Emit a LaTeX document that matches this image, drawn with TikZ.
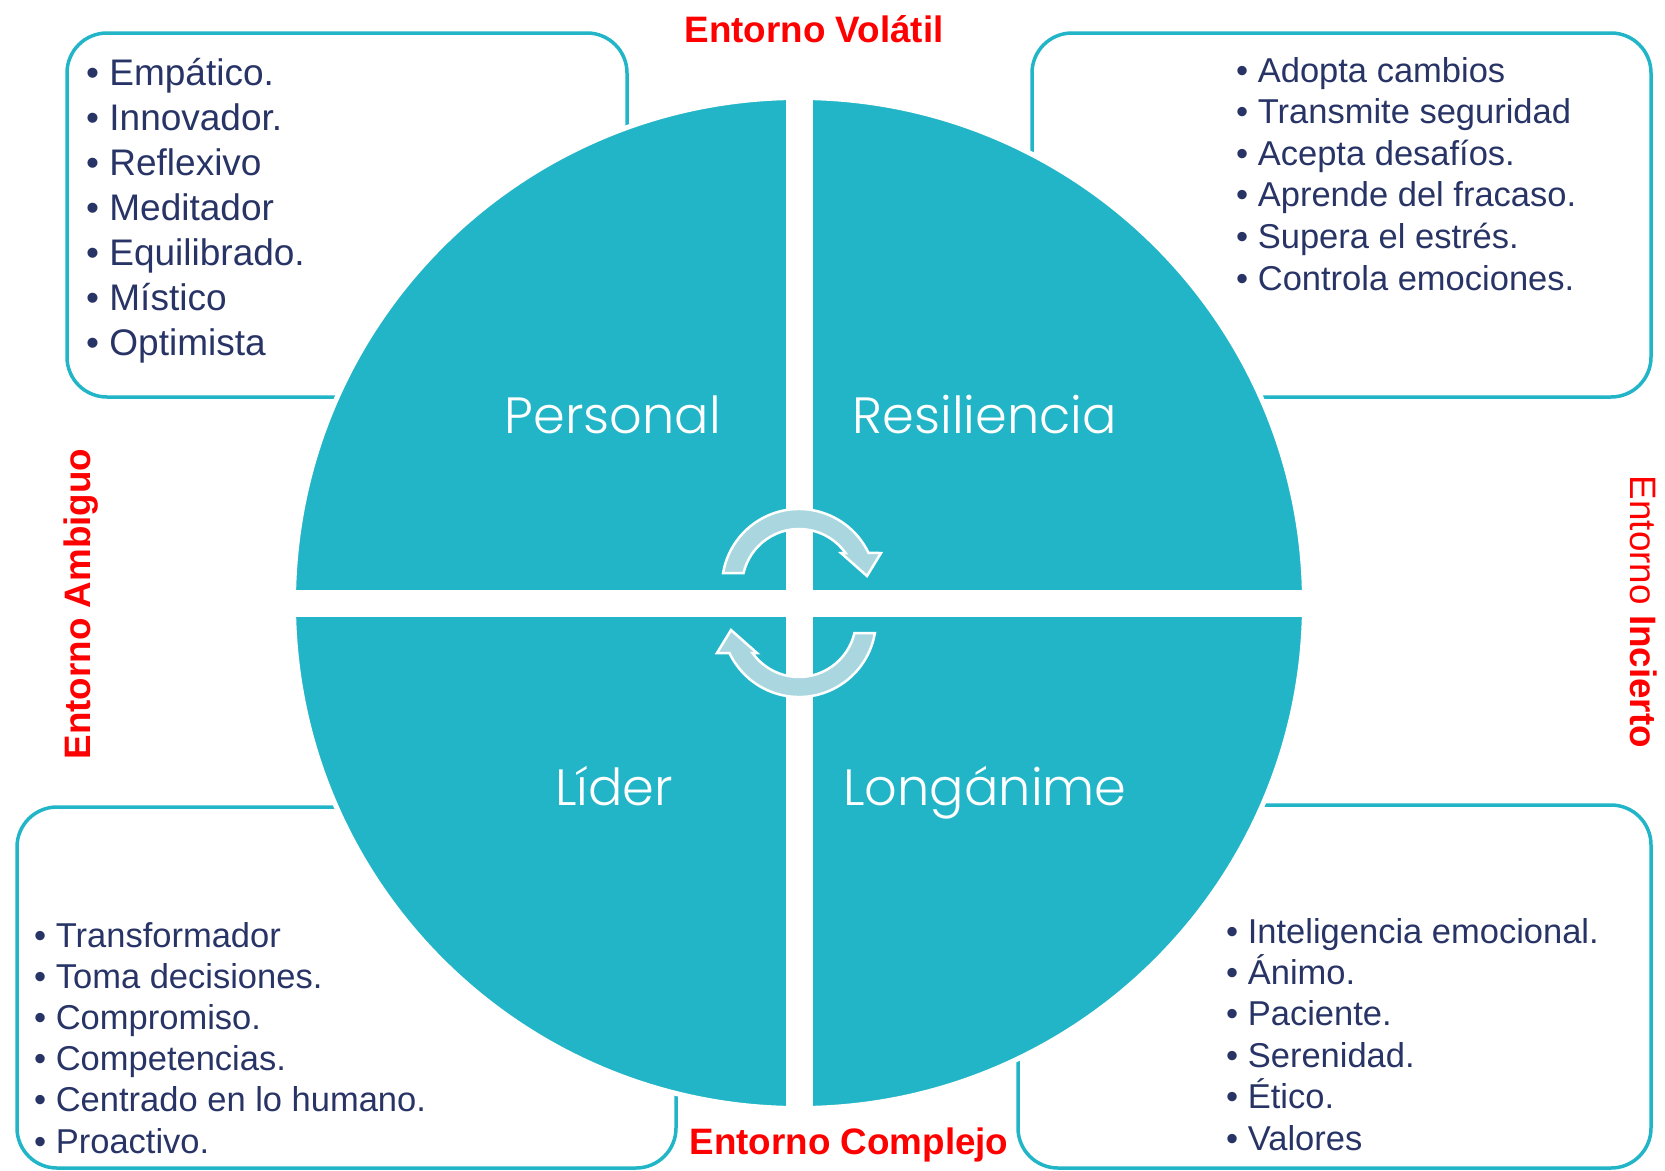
\documentclass[tikz,border=0pt]{standalone}
\usepackage{fontspec}
\setmainfont{Liberation Sans}
\newfontfamily\quadfont{Poppins Light}
\usepackage{tikz}
\definecolor{wheelteal}{RGB}{33,181,199}
\definecolor{arrowblue}{RGB}{170,215,223}
\definecolor{itemnavy}{RGB}{40,52,102}
\definecolor{envred}{RGB}{255,0,0}

\begin{document}
\begin{tikzpicture}[
    x=1pt, y=-1pt,
    panel/.style={draw=wheelteal, line width=3.5pt, rounded corners=40pt, inner sep=0pt},
    item/.style={anchor=base west, inner sep=0pt, text=itemnavy},
    envlabel/.style={anchor=base, inner sep=0pt, text=envred, font=\fontsize{36.8}{40}\selectfont\bfseries},
    quadlabel/.style={anchor=base, inner sep=0pt, text=white, font=\quadfont\fontsize{51}{56}\selectfont},
    turnarrow/.style={fill=arrowblue, draw=white, line width=2.5pt, line join=miter}
]
    \useasboundingbox (0,0) rectangle (1665,1170);

    \node[panel, minimum width=560pt, minimum height=364pt] (tlBox) at (347,215) {};
    \node[panel, minimum width=619pt, minimum height=364pt] (trBox) at (1341.5,215) {};
    \node[panel, minimum width=659pt, minimum height=361pt] (blBox) at (346.5,987.5) {};
    \node[panel, minimum width=633pt, minimum height=363pt] (brBox) at (1334.5,986.5) {};

    \node[circle, fill=wheelteal, draw=white, line width=5pt, minimum size=1011pt, inner sep=0pt] (wheel) at (799,603) {};
    \fill[white] ([yshift=13.5pt]wheel.west) rectangle ([yshift=-13.5pt]wheel.east);
    \fill[white] ([xshift=-13.5pt]wheel.north) rectangle ([xshift=13.5pt]wheel.south);

    \begin{scope}[shift={(799,603)}, yscale=-1]
        \draw[turnarrow] (-75.9,30) arc[start angle=170.3, end angle=25.4, radius=77] -- (82,50) -- (68,27) -- (42,50) -- (46.5,50) arc[start angle=35.4, end angle=166.8, radius=57] -- cycle;
    \end{scope}
    \begin{scope}[shift={(799,603)}, yscale=-1, rotate=180]
        \draw[turnarrow] (-75.9,30) arc[start angle=170.3, end angle=25.4, radius=77] -- (82,50) -- (68,27) -- (42,50) -- (46.5,50) arc[start angle=35.4, end angle=166.8, radius=57] -- cycle;
    \end{scope}

    \node[quadlabel] (personal) at (613,433) {Personal};
    \node[quadlabel] (resiliencia) at (985,433) {Resiliencia};
    \node[quadlabel] (lider) at (614,805) {Líder};
    \node[quadlabel] (longanime) at (985,805) {Longánime};

    \foreach \txt [count=\i] in {Empático., Innovador., Reflexivo, Meditador, Equilibrado., Místico, Optimista}
        \node[item, font=\fontsize{37}{42}\selectfont] (tl\i) at (86, {85+45*(\i-1)}) {• \txt};
    \foreach \txt [count=\i] in {Adopta cambios, Transmite seguridad, Acepta desafíos., Aprende del fracaso., Supera el estrés., Controla emociones.}
        \node[item, font=\fontsize{34.5}{40}\selectfont] (tr\i) at (1236, {82+41.6*(\i-1)}) {• \txt};
    \foreach \txt [count=\i] in {Transformador, Toma decisiones., Compromiso., Competencias., Centrado en lo humano., Proactivo.}
        \node[item, font=\fontsize{34.5}{40}\selectfont] (bl\i) at (34, {947+41.2*(\i-1)}) {• \txt};
    \foreach \txt [count=\i] in {Inteligencia emocional., Ánimo., Paciente., Serenidad., Ético., Valores}
        \node[item, font=\fontsize{34.5}{40}\selectfont] (br\i) at (1226, {943+41.4*(\i-1)}) {• \txt};

    \node[envlabel] (volatil) at (814,42) {Entorno Volátil};
    \node[envlabel] (complejo) at (849,1154) {Entorno Complejo};
    \node[envlabel, rotate=90] (ambiguo) at (90,604) {Entorno Ambiguo};
    \node[envlabel, rotate=-90] (incierto) at (1630,612) {\mdseries Entorno \bfseries Incierto};
\end{tikzpicture}
\end{document}
